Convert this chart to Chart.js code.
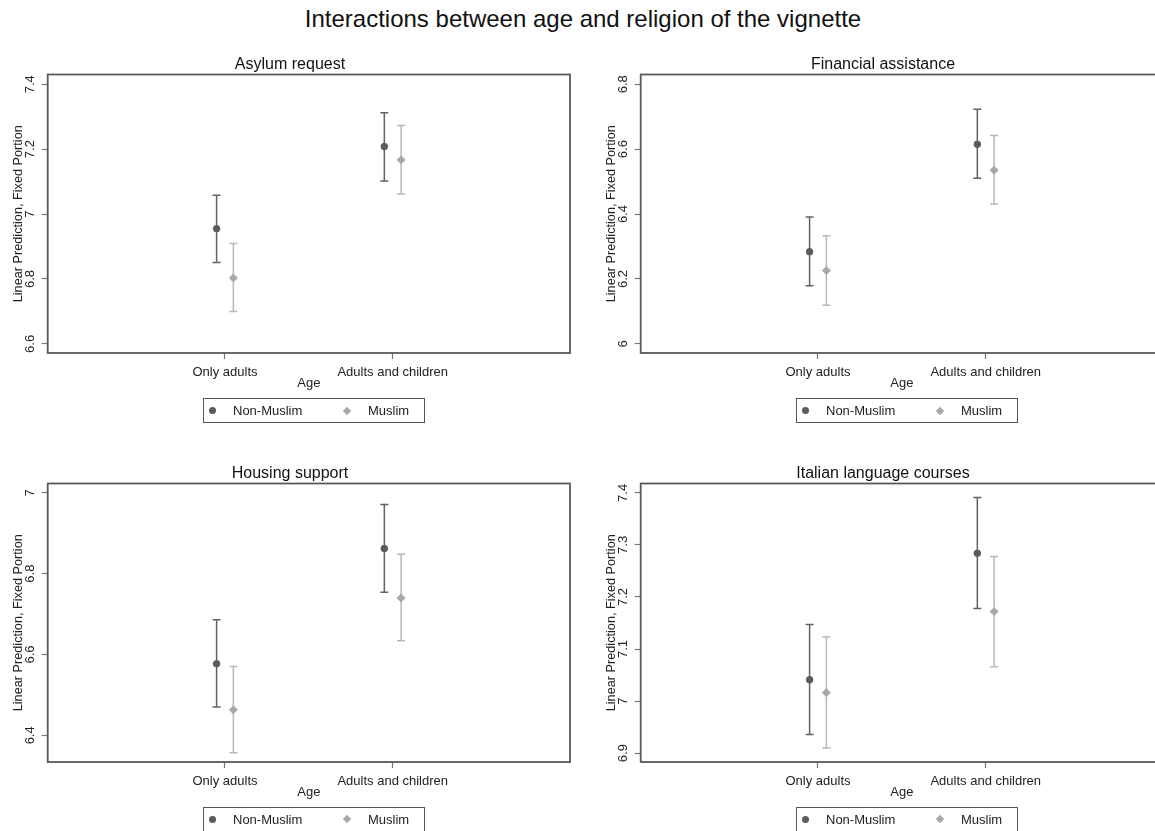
<!DOCTYPE html>
<html>
<head>
<meta charset="utf-8">
<title>Interactions between age and religion of the vignette</title>
<script src="https://cdn.jsdelivr.net/npm/chart.js@4.4.0/dist/chart.umd.min.js"></script>
<style>
    html, body {
        margin: 0;
        padding: 0;
        width: 1155px;
        height: 831px;
        overflow: hidden;
        background: #fff;
        font-family: 'Liberation Sans', Arial, sans-serif;
    }
    #mainTitle {
        position: absolute;
        left: 0;
        top: 7px;
        width: 1166px;
        text-align: center;
        font-size: 24px;
        line-height: 24px;
        color: #111;
    }
    .panel {
        position: absolute;
        width: 580px;
        height: 360px;
    }
    .legend {
        position: absolute;
        width: 222px;
        height: 25px;
        box-sizing: border-box;
        border: 1px solid #555;
        font-size: 13px;
        color: #222;
    }
    .legend span {
        position: absolute;
        top: 0;
        line-height: 23px;
    }
    .legend .dot {
        position: absolute;
        top: 8px;
        width: 7px;
        height: 7px;
        border-radius: 50%;
        background: #5b5b5b;
    }
    .legend .diamond {
        position: absolute;
        top: 8.5px;
        width: 6px;
        height: 6px;
        background: #a8a8a8;
        transform: rotate(45deg);
    }
</style>
</head>
<body>
<div id="mainTitle">Interactions between age and religion of the vignette</div>
<div id="panels"></div>

<script>
// categories and series
const ageGroups = ['Only adults', 'Adults and children'];
const seriesNames = ['Non-Muslim', 'Muslim'];

// Asylum request
const asylumNonMuslim = [6.955, 7.208];
const asylumNonMuslimLo = [6.851, 7.102];
const asylumNonMuslimHi = [7.058, 7.312];
const asylumMuslim = [6.803, 7.167];
const asylumMuslimLo = [6.700, 7.062];
const asylumMuslimHi = [6.909, 7.273];
const asylumTicks = [6.6, 6.8, 7, 7.2, 7.4];

// Financial assistance
const financialNonMuslim = [6.284, 6.615];
const financialNonMuslimLo = [6.179, 6.510];
const financialNonMuslimHi = [6.391, 6.723];
const financialMuslim = [6.226, 6.535];
const financialMuslimLo = [6.119, 6.431];
const financialMuslimHi = [6.333, 6.642];
const financialTicks = [6, 6.2, 6.4, 6.6, 6.8];

// Housing support
const housingNonMuslim = [6.577, 6.862];
const housingNonMuslimLo = [6.470, 6.754];
const housingNonMuslimHi = [6.686, 6.971];
const housingMuslim = [6.463, 6.740];
const housingMuslimLo = [6.357, 6.634];
const housingMuslimHi = [6.570, 6.848];
const housingTicks = [6.4, 6.6, 6.8, 7];

// Italian language courses
const italianNonMuslim = [7.041, 7.284];
const italianNonMuslimLo = [6.936, 7.178];
const italianNonMuslimHi = [7.147, 7.391];
const italianMuslim = [7.016, 7.172];
const italianMuslimLo = [6.910, 7.066];
const italianMuslimHi = [7.123, 7.278];
const italianTicks = [6.9, 7, 7.1, 7.2, 7.3, 7.4];

Chart.defaults.font.family = "'Liberation Sans', Arial, sans-serif";

const panels = [
    { title: 'Asylum request', left: 0, top: 40,
      nm: asylumNonMuslim, nmLo: asylumNonMuslimLo, nmHi: asylumNonMuslimHi,
      m: asylumMuslim, mLo: asylumMuslimLo, mHi: asylumMuslimHi,
      ticks: asylumTicks, yMin: 6.572, yMax: 7.430 },
    { title: 'Financial assistance', left: 593, top: 40,
      nm: financialNonMuslim, nmLo: financialNonMuslimLo, nmHi: financialNonMuslimHi,
      m: financialMuslim, mLo: financialMuslimLo, mHi: financialMuslimHi,
      ticks: financialTicks, yMin: 5.972, yMax: 6.830 },
    { title: 'Housing support', left: 0, top: 448.5,
      nm: housingNonMuslim, nmLo: housingNonMuslimLo, nmHi: housingNonMuslimHi,
      m: housingMuslim, mLo: housingMuslimLo, mHi: housingMuslimHi,
      ticks: housingTicks, yMin: 6.334, yMax: 7.023 },
    { title: 'Italian language courses', left: 593, top: 448.5,
      nm: italianNonMuslim, nmLo: italianNonMuslimLo, nmHi: italianNonMuslimHi,
      m: italianMuslim, mLo: italianMuslimLo, mHi: italianMuslimHi,
      ticks: italianTicks, yMin: 6.883, yMax: 7.418 }
];

const dodge = 0.05;

// draws the confidence intervals behind the markers
const errorBars = {
    id: 'errorBars',
    beforeDatasetsDraw(chart) {
        const { ctx, scales: { x, y } } = chart;
        ctx.save();
        chart.data.datasets.forEach(ds => {
            ctx.strokeStyle = ds.barColor;
            ctx.lineWidth = 1.5;
            ds.data.forEach(p => {
                const px = x.getPixelForValue(p.x);
                const top = y.getPixelForValue(p.yMax);
                const bot = y.getPixelForValue(p.yMin);
                ctx.beginPath();
                ctx.moveTo(px, top);
                ctx.lineTo(px, bot);
                ctx.moveTo(px - 4, top);
                ctx.lineTo(px + 4, top);
                ctx.moveTo(px - 4, bot);
                ctx.lineTo(px + 4, bot);
                ctx.stroke();
            });
        });
        ctx.restore();
    }
};

// box around the plot region
const plotFrame = {
    id: 'plotFrame',
    afterDraw(chart) {
        const { ctx, chartArea: a } = chart;
        ctx.save();
        ctx.strokeStyle = '#595959';
        ctx.lineWidth = 1.8;
        ctx.strokeRect(a.left, a.top, a.width, a.height);
        ctx.restore();
    }
};

function fmt(v) {
    return String(Number(v.toFixed(2)));
}

function makeLegend(left, top) {
    const div = document.createElement('div');
    div.className = 'legend';
    div.style.left = left + 'px';
    div.style.top = top + 'px';
    div.innerHTML =
        '<div class="dot" style="left:5px"></div>' +
        '<span style="left:29px">' + seriesNames[0] + '</span>' +
        '<div class="diamond" style="left:140px"></div>' +
        '<span style="left:164px">' + seriesNames[1] + '</span>';
    document.body.appendChild(div);
}

panels.forEach(p => {
    const canvas = document.createElement('canvas');
    canvas.className = 'panel';
    canvas.width = 580;
    canvas.height = 360;
    canvas.style.left = p.left + 'px';
    canvas.style.top = p.top + 'px';
    document.getElementById('panels').appendChild(canvas);

    new Chart(canvas, {
        type: 'scatter',
        data: {
            datasets: [{
                label: seriesNames[0],
                data: ageGroups.map((g, i) => ({ x: i - dodge, y: p.nm[i], yMin: p.nmLo[i], yMax: p.nmHi[i] })),
                pointStyle: 'circle',
                pointRadius: 3.3,
                pointBorderWidth: 1,
                backgroundColor: '#5b5b5b',
                borderColor: '#5b5b5b',
                barColor: '#626262'
            }, {
                label: seriesNames[1],
                data: ageGroups.map((g, i) => ({ x: i + dodge, y: p.m[i], yMin: p.mLo[i], yMax: p.mHi[i] })),
                pointStyle: 'rectRot',
                pointRadius: 4,
                pointBorderWidth: 1,
                backgroundColor: '#a8a8a8',
                borderColor: '#a8a8a8',
                barColor: '#b8b8b8'
            }]
        },
        options: {
            responsive: false,
            animation: false,
            events: [],
            layout: { padding: { left: 10, top: 4, right: 10, bottom: 7 } },
            plugins: {
                legend: { display: false },
                tooltip: { enabled: false },
                title: {
                    display: true,
                    text: p.title,
                    color: '#111',
                    font: { size: 16, weight: 'normal' },
                    padding: { top: 10.8, bottom: 0.5 }
                }
            },
            scales: {
                x: {
                    type: 'linear',
                    min: -1.057,
                    max: 2.057,
                    afterBuildTicks: s => { s.ticks = ageGroups.map((g, i) => ({ value: i })); },
                    afterFit: s => { s.height = 40; },
                    ticks: {
                        callback: v => ageGroups[v],
                        color: '#222',
                        font: { size: 13 },
                        padding: 5.2,
                        maxRotation: 0,
                        autoSkip: false
                    },
                    grid: { drawOnChartArea: false, tickLength: 6, tickColor: '#777', tickWidth: 1.2 },
                    border: { display: false },
                    title: { display: true, text: 'Age', color: '#222', font: { size: 13 }, padding: { top: 0, bottom: 2 } }
                },
                y: {
                    min: p.yMin,
                    max: p.yMax,
                    afterBuildTicks: s => { s.ticks = p.ticks.map(v => ({ value: v })); },
                    afterFit: s => { s.width = 37.7; },
                    ticks: {
                        callback: v => fmt(v),
                        minRotation: 90,
                        maxRotation: 90,
                        crossAlign: 'center',
                        padding: 2,
                        color: '#222',
                        font: { size: 13 },
                        autoSkip: false
                    },
                    grid: { drawOnChartArea: false, tickLength: 6, tickColor: '#777', tickWidth: 1.2 },
                    border: { display: false },
                    title: { display: true, text: 'Linear Prediction, Fixed Portion', color: '#222', font: { size: 12.7 }, padding: { top: 0.4, bottom: 0 } }
                }
            }
        },
        plugins: [errorBars, plotFrame]
    });

    makeLegend(p.left + 203, p.top + 358);
});
</script>
</body>
</html>
